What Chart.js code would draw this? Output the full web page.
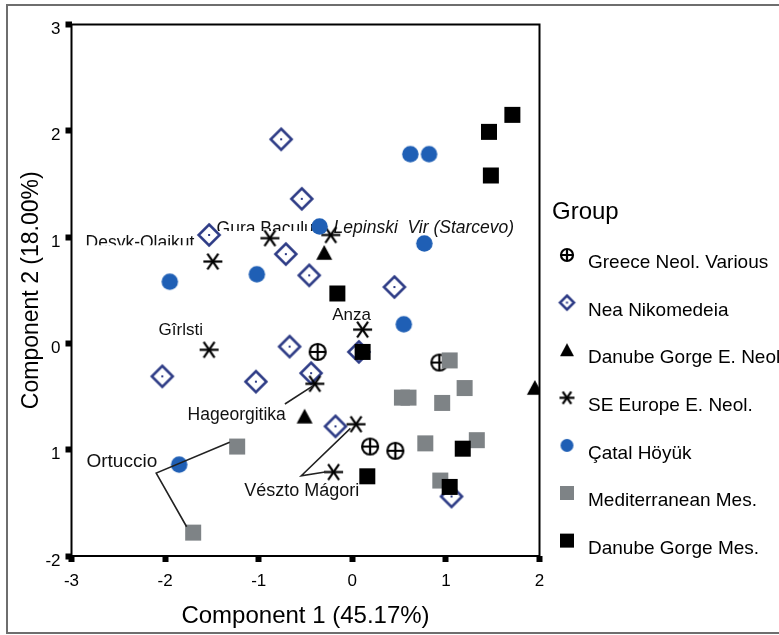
<!DOCTYPE html>
<html>
<head>
<meta charset="utf-8">
<script src="https://cdn.jsdelivr.net/npm/chart.js@4.4.1/dist/chart.umd.min.js"></script>
<style>
  html, body { margin: 0; padding: 0; background: #fff; }
  canvas { display: block; }
</style>
</head>
<body>
<canvas id="pca" width="779" height="635"></canvas>
<script>
// group names in legend order
const groupNames = [
  "Greece Neol. Various",
  "Nea Nikomedeia",
  "Danube Gorge E. Neol.",
  "SE Europe E. Neol.",
  "Çatal Höyük",
  "Mediterranean Mes.",
  "Danube Gorge Mes."
];

// component scores
const greeceX = [-0.37, 0.93, 0.19, 0.46];
const greeceY = [-0.08, -0.18, -0.97, -1.01];

const neaX = [-0.76, -0.54, -1.53, -0.71, -0.46, 0.45, -0.67, -2.03, -1.03, -0.44, -0.18, 0.07, 1.06];
const neaY = [1.92, 1.36, 1.02, 0.84, 0.64, 0.53, -0.03, -0.31, -0.36, -0.28, -0.78, -0.08, -1.44];

const dgNeolX = [-0.30, -0.51, 1.95];
const dgNeolY = [0.85, -0.69, -0.42];

const seEuropeX = [-1.49, -0.88, -0.23, 0.11, -1.53, -0.40, 0.04, -0.20];
const seEuropeY = [0.77, 0.99, 1.02, 0.13, -0.06, -0.38, -0.76, -1.21];

const catalX = [-1.95, -1.02, -0.35, 0.62, 0.82, 0.77, 0.55, -1.85];
const catalY = [0.58, 0.65, 1.10, 1.78, 1.78, 0.94, 0.18, -1.14];

const medX = [-1.23, -1.70, 1.04, 1.20, 0.53, 0.60, 0.96, 0.78, 1.33, 0.94];
const medY = [-0.97, -1.78, -0.16, -0.42, -0.51, -0.51, -0.56, -0.94, -0.91, -1.29];

const dgMesX = [1.71, 1.46, 1.48, -0.16, 0.11, 1.18, 0.16, 1.04];
const dgMesY = [2.15, 1.99, 1.58, 0.47, -0.08, -0.99, -1.25, -1.35];

const yTickLabels = ["-2", "1", "0", "1", "2", "3"];

// site labels (data coords of text start / baseline)
const siteNames = ["Desyk-Olajkut", "Gura Bacului", "Lepinski  Vir (Starcevo)", "Anza", "Gîrlsti", "Hageorgitika", "Ortuccio", "Vészto Mágori"];
const siteX = [-2.85, -1.45, -0.20, -0.215, -2.07, -1.76, -2.84, -1.155];
const siteY = [0.895, 1.03, 1.035, 0.22, 0.08, -0.72, -1.16, -1.435];

const leaderLines = [
  [[-0.72, -0.57], [-0.42, -0.40]],
  [[-1.31, -0.93], [-2.095, -1.22], [-1.77, -1.725]],
  [[-0.02, -0.80], [-0.545, -1.245], [-0.29, -1.21]]
];

const FONT = '"Liberation Sans", Arial, sans-serif';
const NAVY = "#2c3a85";
const BLUE = "#1f5fb5";
const GRAY = "#7e8386";

function makeMarker(kind, s) {
  const c = document.createElement("canvas");
  c.width = c.height = Math.ceil(s) + 4;
  const ctx = c.getContext("2d");
  const r = s / 2;
  ctx.translate(c.width / 2, c.height / 2);
  ctx.lineJoin = "miter";
  if (kind === "crossCircle") {
    ctx.beginPath();
    ctx.arc(0, 0, r - 1, 0, Math.PI * 2);
    ctx.fillStyle = "#fff";
    ctx.fill();
    ctx.lineWidth = 2.2;
    ctx.strokeStyle = "#000";
    ctx.stroke();
    ctx.beginPath();
    ctx.moveTo(-r + 1, 0); ctx.lineTo(r - 1, 0);
    ctx.moveTo(0, -r + 1); ctx.lineTo(0, r - 1);
    ctx.stroke();
  } else if (kind === "diamond") {
    const d = r - 1.5;
    ctx.beginPath();
    ctx.moveTo(0, -d); ctx.lineTo(d, 0); ctx.lineTo(0, d); ctx.lineTo(-d, 0); ctx.closePath();
    ctx.fillStyle = "#fff";
    ctx.fill();
    ctx.lineWidth = 2.5;
    ctx.strokeStyle = NAVY;
    ctx.stroke();
    ctx.fillStyle = NAVY;
    ctx.fillRect(-1, -1, 2, 2);
  } else if (kind === "triangle") {
    ctx.beginPath();
    ctx.moveTo(0, -r); ctx.lineTo(r, r * 0.85); ctx.lineTo(-r, r * 0.85); ctx.closePath();
    ctx.fillStyle = "#000";
    ctx.fill();
  } else if (kind === "asterisk") {
    ctx.strokeStyle = "#000";
    ctx.lineWidth = 2.2;
    [0, 55, 125].forEach((a) => {
      const rad = (a * Math.PI) / 180;
      const dx = Math.cos(rad) * r, dy = Math.sin(rad) * r;
      ctx.beginPath();
      ctx.moveTo(-dx, -dy); ctx.lineTo(dx, dy);
      ctx.stroke();
    });
  } else if (kind === "circle") {
    ctx.beginPath();
    ctx.arc(0, 0, r, 0, Math.PI * 2);
    ctx.fillStyle = BLUE;
    ctx.fill();
  } else if (kind === "graySquare" || kind === "blackSquare") {
    ctx.fillStyle = kind === "graySquare" ? GRAY : "#000";
    ctx.fillRect(-r, -r, s, s);
  }
  return c;
}

const markerKinds = ["crossCircle", "diamond", "triangle", "asterisk", "circle", "graySquare", "blackSquare"];
const markerSizes = [18, 24, 16, 19, 16.5, 16, 16];
const legendSizes = [14, 17, 14, 15, 13, 14, 14];

const groupXs = [greeceX, neaX, dgNeolX, seEuropeX, catalX, medX, dgMesX];
const groupYs = [greeceY, neaY, dgNeolY, seEuropeY, catalY, medY, dgMesY];

const datasets = groupNames.map((name, i) => ({
  label: name,
  data: groupXs[i].map((x, j) => ({ x: x, y: groupYs[i][j] })),
  pointStyle: makeMarker(markerKinds[i], markerSizes[i]),
  order: groupNames.length - i // later groups drawn on top
}));
const legendMarkers = markerKinds.map((k, i) => makeMarker(k, legendSizes[i]));

const overlay = {
  id: "overlay",
  beforeDatasetsDraw(chart) {
    const ctx = chart.ctx;
    const xs = chart.scales.x, ys = chart.scales.y;
    ctx.save();
    ctx.fillStyle = "#111";
    ctx.textBaseline = "alphabetic";
    ctx.textAlign = "left";
    siteNames.forEach((name, i) => {
      const px = xs.getPixelForValue(siteX[i]);
      const py = ys.getPixelForValue(siteY[i]);
      let size = 17.5;
      if (name === "Ortuccio") size = 19;
      if (name === "Vészto Mágori") size = 18;
      if (name === "Anza" || name === "Gîrlsti") size = 17;
      ctx.font = (name.startsWith("Lepinski") ? "italic " : "") + size + "px " + FONT;
      ctx.save();
      if (i < 2) {
        // these two labels are cut off just above the baseline
        ctx.beginPath();
        ctx.rect(px - 5, py - 30, 200, 27);
        ctx.clip();
      }
      ctx.fillText(name, px, py);
      ctx.restore();
    });
    ctx.restore();
  },
  afterDatasetsDraw(chart) {
    const ctx = chart.ctx;
    const xs = chart.scales.x, ys = chart.scales.y;
    ctx.save();
    ctx.strokeStyle = "#222";
    ctx.lineWidth = 1.6;
    leaderLines.forEach((pts) => {
      ctx.beginPath();
      pts.forEach((p, k) => {
        const px = xs.getPixelForValue(p[0]), py = ys.getPixelForValue(p[1]);
        if (k === 0) ctx.moveTo(px, py); else ctx.lineTo(px, py);
      });
      ctx.stroke();
    });
    ctx.restore();
  },
  afterDraw(chart) {
    const ctx = chart.ctx;
    const a = chart.chartArea;
    ctx.save();
    // plot box
    ctx.strokeStyle = "#000";
    ctx.lineWidth = 2;
    ctx.strokeRect(a.left, a.top, a.right - a.left, a.bottom - a.top);
    // outer frame
    ctx.strokeStyle = "#6e6e6e";
    ctx.lineWidth = 2;
    ctx.strokeRect(7, 5, 800, 628);
    // legend
    ctx.fillStyle = "#000";
    ctx.textAlign = "left";
    ctx.textBaseline = "middle";
    ctx.font = "24px " + FONT;
    ctx.fillText("Group", 552, 212);
    ctx.font = "19px " + FONT;
    groupNames.forEach((name, i) => {
      const rowY = 255 + i * 47.6;
      const m = legendMarkers[i];
      ctx.drawImage(m, 567 - m.width / 2, rowY - m.height / 2);
      ctx.fillText(name, 588, rowY + 8);
    });
    ctx.restore();
  }
};

new Chart(document.getElementById("pca"), {
  type: "scatter",
  data: { datasets: datasets },
  options: {
    responsive: false,
    devicePixelRatio: 1,
    animation: false,
    layout: { padding: { left: 0, top: 24.5, right: 239.5, bottom: 0 } },
    plugins: { legend: { display: false }, tooltip: { enabled: false } },
    scales: {
      x: {
        type: "linear",
        min: -3,
        max: 2,
        border: { display: false },
        grid: { drawOnChartArea: false, drawTicks: true, tickLength: 6, tickWidth: 6, tickColor: "#000" },
        ticks: { stepSize: 1, color: "#000", padding: 9, font: { family: FONT, size: 17 } },
        title: { display: true, text: "Component 1 (45.17%)", color: "#000", padding: { top: 12 }, font: { family: FONT, size: 24 } },
        afterFit(scale) { scale.height = 79; }
      },
      y: {
        type: "linear",
        min: -2,
        max: 3,
        border: { display: false },
        grid: { drawOnChartArea: false, drawTicks: true, tickLength: 6, tickWidth: 6, tickColor: "#000" },
        ticks: {
          stepSize: 1, color: "#000", padding: 5, labelOffset: 5,
          font: { family: FONT, size: 17 },
          callback: (v, i) => yTickLabels[i]
        },
        title: { display: true, text: "Component 2 (18.00%)", color: "#000", padding: { top: 18 }, font: { family: FONT, size: 23 } },
        afterFit(scale) { scale.width = 71.5; }
      }
    }
  },
  plugins: [overlay]
});
</script>
</body>
</html>
